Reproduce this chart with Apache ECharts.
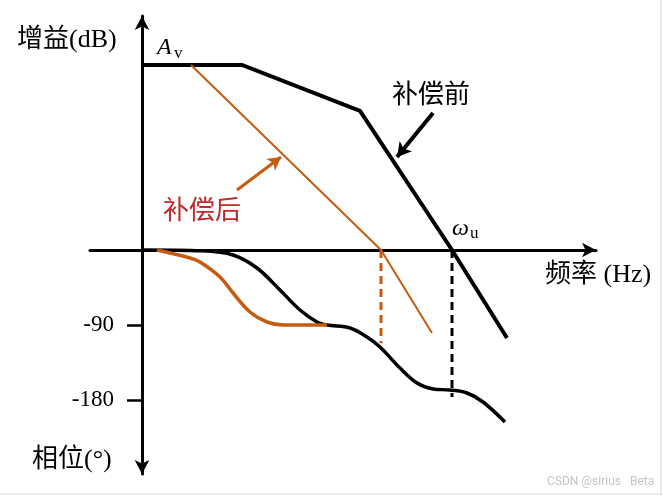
<!DOCTYPE html>
<html><head><meta charset="utf-8">
<script src="https://cdn.jsdelivr.net/npm/echarts@6/dist/echarts.min.js"></script>
<style>html,body{margin:0;padding:0;background:#fff}#c{width:663px;height:496px}</style>
</head><body><div id="c"></div>
<script>
// ---- data (x: log-frequency units, gain: dB, phase: degrees) ----
const gainBeforeX = [0, 10, 21.8, 31, 36.5];
const gainBeforeDb = [74, 74, 55.6, 0, -35.2];
const gainAfterX = [4.9, 23.9, 29];
const gainAfterDb = [74, 0, -33.2];
const phaseBeforeX = [0, 6, 9.1, 11.5, 13.8, 15.8, 17.5, 18.5, 20.8, 22.5, 23.8, 25.8, 27.5, 29.1, 30.8, 32.5, 34.1, 36.3];
const phaseBeforeDeg = [0, -1, -6, -21.6, -48, -72, -86.4, -90, -93.6, -104.4, -116.4, -141.6, -159.6, -166.8, -168, -171.6, -182.4, -206.4];
const phaseAfterX = [1.5, 4.8, 5.8, 7.8, 9.1, 10.8, 12.5, 14.1, 18.5];
const phaseAfterDeg = [0, -9.6, -14.4, -32.4, -51.6, -74.4, -86.4, -90, -90];
const phaseTickValues = [-90, -180];
const dropAfterX = 23.9, dropAfterDeg = -112;   // compensated crossover drop
const dropBeforeX = 31, dropBeforeDeg = -176.4; // ωu drop
const arrowBefore = [[29.1, 54.8], [25.5, 37.2]];
const arrowAfter = [[9.5, 24], [13.9, 37.2]];

// ---- layout ----
const W = 663, H = 496;
const GRID_TOP = 16, GRID_BOTTOM = 22, GRID_LEFT = 90, GRID_RIGHT = 67;
const ZERO_X = 142, ZERO_Y = 250;
const PX_PER_X = 10, PX_PER_DEG = 75 / 90, PX_PER_DB = 2.5;
const xMin = -(ZERO_X - GRID_LEFT) / PX_PER_X;
const xMax = (W - GRID_RIGHT - ZERO_X) / PX_PER_X;
const phMax = (ZERO_Y - GRID_TOP) / PX_PER_DEG;
const phMin = -(H - GRID_BOTTOM - ZERO_Y) / PX_PER_DEG;
const gMax = (ZERO_Y - GRID_TOP) / PX_PER_DB;
const gMin = -(H - GRID_BOTTOM - ZERO_Y) / PX_PER_DB;

const ORANGE = '#C55A11';
const RED = '#C0282A';
const SERIF = "'Liberation Serif','Noto Sans CJK SC',serif";
const zip = (a, b) => a.map((v, i) => [v, b[i]]);

const chart = echarts.init(document.getElementById('c'), null, {renderer: 'canvas'});
chart.setOption({
  animation: false,
  backgroundColor: '#fff',
  grid: {left: GRID_LEFT, right: GRID_RIGHT, top: GRID_TOP, bottom: GRID_BOTTOM, containLabel: false},
  xAxis: {
    type: 'value', min: xMin, max: xMax,
    axisLine: {show: true, onZero: true, symbol: ['none', 'arrow'], symbolSize: [11, 14], lineStyle: {color: '#000', width: 3}},
    axisTick: {show: false}, axisLabel: {show: false}, splitLine: {show: false}
  },
  yAxis: [{
    type: 'value', min: phMin, max: phMax,
    axisLine: {show: true, onZero: true, symbol: ['arrow', 'arrow'], symbolSize: [11, 14], lineStyle: {color: '#000', width: 3}},
    axisTick: {show: true, customValues: phaseTickValues, length: 15, lineStyle: {color: '#000', width: 2.5}},
    axisLabel: {show: true, customValues: phaseTickValues, margin: -24, color: '#000', fontSize: 23, fontFamily: SERIF},
    splitLine: {show: false}
  }, {
    type: 'value', min: gMin, max: gMax, show: false, splitLine: {show: false}
  }],
  series: [
    {type: 'line', yAxisIndex: 1, data: zip(gainBeforeX, gainBeforeDb), showSymbol: false, symbol: 'none',
      lineStyle: {color: '#000', width: 4, join: 'miter'}, z: 3,
      markLine: {silent: true, symbol: ['none', 'arrow'], symbolSize: [12, 14], label: {show: false},
        lineStyle: {color: '#000', width: 4, type: 'solid'},
        data: [[{coord: arrowBefore[0]}, {coord: arrowBefore[1]}]]}},
    {type: 'line', yAxisIndex: 1, data: zip(gainAfterX, gainAfterDb), showSymbol: false, symbol: 'none',
      lineStyle: {color: ORANGE, width: 2}, z: 4,
      markLine: {silent: true, symbol: ['none', 'arrow'], symbolSize: [11, 13], label: {show: false},
        lineStyle: {color: ORANGE, width: 3, type: 'solid'},
        data: [[{coord: arrowAfter[0]}, {coord: arrowAfter[1]}]]}},
    {type: 'line', yAxisIndex: 0, data: zip(phaseBeforeX, phaseBeforeDeg), showSymbol: false, symbol: 'none',
      smooth: 0.35, lineStyle: {color: '#000', width: 3.5}, z: 3},
    {type: 'line', yAxisIndex: 0, data: zip(phaseAfterX, phaseAfterDeg), showSymbol: false, symbol: 'none',
      smooth: 0.35, lineStyle: {color: ORANGE, width: 3.5}, z: 4},
    {type: 'line', yAxisIndex: 0, data: [[dropAfterX, 0], [dropAfterX, dropAfterDeg]], showSymbol: false, symbol: 'none',
      lineStyle: {color: ORANGE, width: 3, type: [8, 5]}, z: 2},
    {type: 'line', yAxisIndex: 0, data: [[dropBeforeX, 0], [dropBeforeX, dropBeforeDeg]], showSymbol: false, symbol: 'none',
      lineStyle: {color: '#000', width: 3, type: [8, 5]}, z: 2}
  ],
  graphic: [
    {type: 'text', style: {text: '增益(dB)', x: 17, y: 40, fill: '#000', font: '26px ' + SERIF, textVerticalAlign: 'middle'}},
    {type: 'text', style: {text: 'A', x: 157, y: 48, fill: '#000', font: 'italic 24px ' + SERIF, textVerticalAlign: 'middle'}},
    {type: 'text', style: {text: 'v', x: 174, y: 54, fill: '#000', font: '17px ' + SERIF, textVerticalAlign: 'middle'}},
    {type: 'text', style: {text: '补偿前', x: 392, y: 96, fill: '#000', font: '26px ' + SERIF, textVerticalAlign: 'middle'}},
    {type: 'text', style: {text: '补偿后', x: 163, y: 212, fill: RED, font: '26px ' + SERIF, textVerticalAlign: 'middle'}},
    {type: 'text', style: {text: 'ω', x: 452, y: 229, fill: '#000', font: 'italic 24px ' + SERIF, textVerticalAlign: 'middle'}},
    {type: 'text', style: {text: 'u', x: 470, y: 234, fill: '#000', font: '17px ' + SERIF, textVerticalAlign: 'middle'}},
    {type: 'text', style: {text: '频率 (Hz)', x: 545, y: 275, fill: '#000', font: '26px ' + SERIF, textVerticalAlign: 'middle'}},
    {type: 'text', style: {text: '相位(°)', x: 32, y: 460, fill: '#000', font: '26px ' + SERIF, textVerticalAlign: 'middle'}},
    {type: 'text', style: {text: 'CSDN @sirius   Beta', x: 547, y: 482, fill: '#c4c4c4', font: '12px Roboto, sans-serif', textVerticalAlign: 'middle'}},
    {type: 'line', shape: {x1: 661, y1: 0, x2: 661, y2: 496}, style: {stroke: '#ececec', lineWidth: 2}},
    {type: 'line', shape: {x1: 0, y1: 494, x2: 663, y2: 494}, style: {stroke: '#ececec', lineWidth: 2}}
  ]
});
</script></body></html>
